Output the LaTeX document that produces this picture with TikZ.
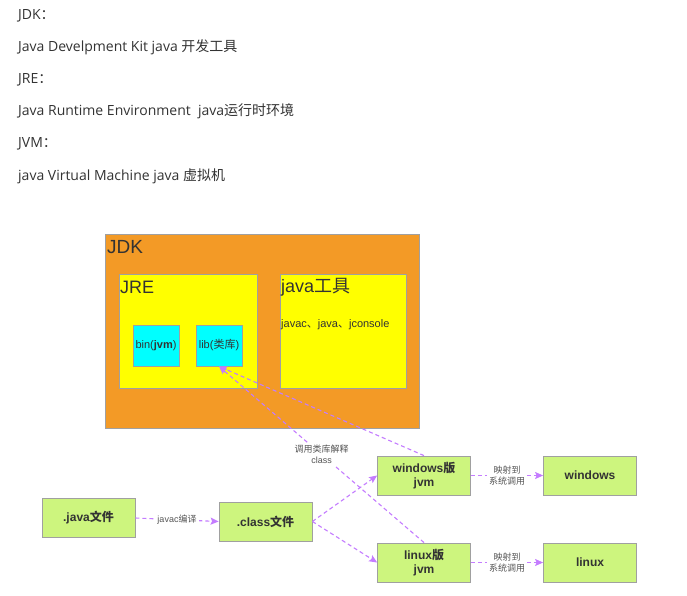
\documentclass[tikz,border=0pt]{standalone}
\usepackage{fontspec}
\setmainfont{Open Sans}
\newfontfamily\cjk{Noto Sans CJK SC}
\newfontfamily\arialf{Liberation Sans}
\usetikzlibrary{arrows.meta}
\definecolor{txt}{HTML}{333333}
\definecolor{jdkor}{HTML}{F39A26}
\definecolor{boxline}{HTML}{A0A0A0}
\definecolor{yel}{HTML}{FFFF00}
\definecolor{cyn}{HTML}{00FFFF}
\definecolor{grn}{HTML}{CDF57E}
\definecolor{purp}{HTML}{C47CFF}
\definecolor{lbltxt}{HTML}{555555}
\tikzset{
  para/.style={anchor=base west, inner sep=0pt, text=txt, font=\fontsize{14}{16}\selectfont},
  area/.style={draw=boxline, line width=0.8pt, anchor=north west, inner sep=0pt},
  title/.style={anchor=north west, inner sep=0pt, text=txt, font=\arialf\fontsize{18}{20}\selectfont},
  gbox/.style={draw=boxline, line width=0.8pt, fill=grn, minimum width=93pt, minimum height=39pt, inner sep=0pt, align=center, text=txt, font=\arialf\bfseries\fontsize{12}{14}\selectfont},
  cbox/.style={draw=boxline, line width=0.8pt, fill=cyn, minimum width=46pt, minimum height=41pt, inner sep=0pt, text=txt, font=\arialf\fontsize{11}{13}\selectfont},
  arr/.style={draw=purp, line width=1.1pt, dash pattern=on 4pt off 3pt, -{Stealth[length=8pt,width=7pt,inset=1.5pt]}},
  lbl/.style={fill=white, inner sep=2pt, align=center, text=lbltxt, font=\arialf\fontsize{9}{11}\selectfont}
}
\begin{document}
\begin{tikzpicture}[x=1pt,y=-1pt]
\useasboundingbox[fill=white] (0,0) rectangle (687,596);
% top text
\node[para] (l1) at (18,20) {JDK{\cjk ：}};
\node[para] (l2) at (18,52) {Java Develpment Kit java {\cjk 开发工具}};
\node[para] (l3) at (18,84) {JRE{\cjk ：}};
\node[para] (l4) at (18,116) {Java Runtime Environment\ \ java{\cjk 运行时环境}};
\node[para] (l5) at (18,148) {JVM{\cjk ：}};
\node[para] (l6) at (18,180) {java Virtual Machine java {\cjk 虚拟机}};
% JDK area
\node[area, fill=jdkor, minimum width=314pt, minimum height=194pt] (jdk) at (105,234) {};
\node[title, font=\arialf\fontsize{19}{21}\selectfont] (jdkt) at (107,240) {JDK};
\node[area, fill=yel, minimum width=138pt, minimum height=114pt] (jre) at (119,274) {};
\node[title] (jret) at (120,280.5) {JRE};
\node[area, fill=yel, minimum width=126pt, minimum height=114pt] (tools) at (280,274) {};
\node[title] (toolst) at (281,278) {java{\cjk 工具}};
\node[anchor=west, inner sep=0pt, text=txt, font=\arialf\fontsize{11}{13}\selectfont] (toolsl) at (281,325) {javac{\cjk 、}java{\cjk 、}jconsole};
\node[cbox] (bin) at (156,345.5) {bin(\textbf{jvm})};
\node[cbox] (lib) at (219,345.5) {lib({\cjk 类库})};
% bottom flow
\node[gbox] (javaf) at (88.5,518) {.java{\cjk\bfseries 文件}};
\node[gbox] (classf) at (265.5,521.5) {.class{\cjk\bfseries 文件}};
\node[gbox] (winjvm) at (424,475.5) {windows{\cjk\bfseries 版}\\jvm};
\node[gbox] (linjvm) at (424,562.5) {linux{\cjk\bfseries 版}\\jvm};
\node[gbox] (win) at (590,475.5) {windows};
\node[gbox] (lin) at (590,562.5) {linux};
% connectors
\draw[arr] (javaf.east) -- node[lbl] {javac{\cjk 编译}} (classf.west);
\draw[arr] (classf.east) -- (winjvm.west);
\draw[arr] (classf.east) -- (linjvm.west);
\draw[arr] (winjvm.north) -- (lib.south);
\draw[arr] (linjvm.north) -- node[lbl, pos=0.5] {{\cjk 调用类库解释}\\class} (lib.south);
\draw[arr] (winjvm.east) -- node[lbl] {{\cjk 映射到}\\{\cjk 系统调用}} (win.west);
\draw[arr] (linjvm.east) -- node[lbl] {{\cjk 映射到}\\{\cjk 系统调用}} (lin.west);
\end{tikzpicture}
\end{document}
